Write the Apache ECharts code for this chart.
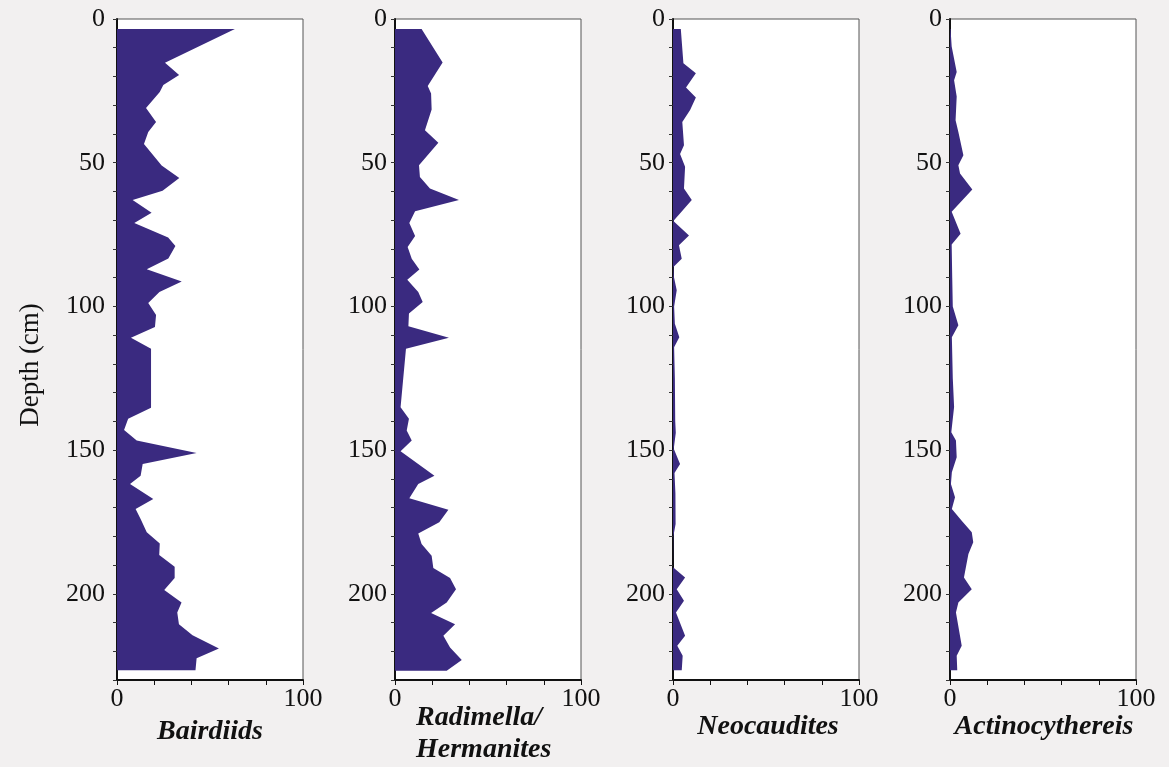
<!DOCTYPE html>
<html>
<head>
<meta charset="utf-8">
<title>Ostracod depth profiles</title>
<script src="https://cdn.jsdelivr.net/npm/echarts@6/dist/echarts.min.js"></script>
<style>
  html, body { margin: 0; padding: 0; background: #f2f0f0; }
  #main { width: 1169px; height: 767px; }
</style>
</head>
<body>
<div id="main"></div>
<script type="text/javascript">
// taxon names (x axis titles)
var taxa = ['Bairdiids', 'Radimella/\nHermanites', 'Neocaudites', 'Actinocythereis'];

// depth (cm) and relative abundance (%), one pair per panel
var bairdDepth = [3.5, 15.2, 19.5, 23, 25.4, 31, 35.8, 39.3, 43.5, 51, 55.3, 59.8, 63, 67.4, 71, 76, 79, 83.3, 87.1, 91.3, 95, 98.8, 103, 107.2, 110.9, 114.7, 135.3, 139.1, 143, 146.7, 151, 154.8, 158.9, 161.8, 167, 170.5, 174, 178.6, 182.5, 186.5, 190.6, 194.5, 198.7, 203, 206.5, 210.6, 214.4, 219, 222.4, 226.6];
var bairdVal = [63.4, 25.8, 33.4, 24.9, 23, 15.6, 21, 16.8, 14.5, 24, 33.5, 24.5, 8.4, 18.6, 9.3, 27.5, 31.4, 27.6, 16, 34.8, 22.8, 16.8, 21, 20.4, 7.5, 18.3, 18.3, 6, 3.8, 10.6, 42.8, 13.8, 12.7, 7, 19.5, 10, 12.7, 16, 23, 22.7, 31, 31, 25.4, 34.7, 32.4, 33.3, 40.6, 54.8, 42.8, 42.2];

var radDepth = [3.5, 15.1, 23.3, 25.9, 31.5, 38.7, 43.1, 50.9, 55, 59, 63, 66.9, 71, 75.5, 79.3, 83.4, 87.2, 90.7, 95, 98.5, 102.5, 106.9, 110.9, 114.7, 135.1, 139.1, 143.2, 146.7, 150.4, 158.9, 161.8, 166.8, 170.8, 175.1, 179, 182.7, 186.8, 191, 194.5, 198.4, 203, 206.7, 210.6, 214.6, 218.7, 223, 226.8];
var radVal = [14.3, 25.6, 17.6, 19.4, 19.7, 16.1, 23.3, 12.9, 13.4, 18.8, 34.4, 10.8, 7.7, 10.8, 6.8, 9, 13.1, 6.6, 12.5, 14.9, 7.5, 7.2, 29, 5.9, 3, 7.5, 6.3, 9, 3, 21.2, 12.5, 7.7, 28.7, 23.8, 12.5, 14.3, 19.7, 20.6, 29.6, 32.8, 27.8, 19.4, 32.3, 26, 29.6, 35.9, 27.8];

var neoDepth = [3.5, 15.4, 18.9, 23.8, 27.3, 31.7, 35.8, 43.9, 47, 51.4, 59, 63, 70.3, 75.3, 78.7, 83.4, 86.3, 89.8, 94.4, 100, 106, 110.7, 114.2, 125, 140, 144, 149.5, 154.8, 158, 165, 175.7, 180, 190.8, 194.3, 198.4, 202.4, 206.5, 214.6, 218.1, 221.6, 226.6];
var neoVal = [4.2, 5.6, 12.3, 7, 12.3, 9.2, 5, 5.9, 3.8, 6.5, 5.9, 10.1, 0.2, 8.6, 3.2, 4.7, 0.2, 0.5, 2, 0.6, 1, 3.4, 0.6, 1, 1.2, 1.5, 0.4, 3.8, 0.8, 1.3, 1.4, 0.2, 0, 6.5, 2, 5.9, 1.6, 6.5, 2.3, 5.2, 4.7];

var actDepth = [3.5, 9.6, 18.4, 21.3, 27, 35.2, 39.3, 47.4, 50.9, 53.8, 59.3, 67.1, 74.7, 78.5, 90, 100, 106.6, 110.7, 125, 135, 143.8, 146.7, 152.5, 157.7, 161.8, 166.4, 170.5, 174.6, 178.6, 182.1, 186.2, 194.3, 198.4, 203, 206.5, 218.1, 221.6, 226.6];
var actVal = [0.3, 0.9, 3.6, 2.2, 3.6, 3, 4.5, 7.2, 4.5, 5.4, 12, 0.9, 5.7, 0.9, 1.2, 1.5, 4.5, 1, 1.5, 2.2, 0.7, 3.2, 3.6, 1, 0.5, 2.7, 1, 6.3, 11.7, 12.5, 9.9, 7.5, 11.7, 4.5, 3.2, 6.3, 3.6, 3.9];

var depths = [bairdDepth, radDepth, neoDepth, actDepth];
var values = [bairdVal, radVal, neoVal, actVal];

var xLabels = [0, 100];      // only these x ticks get a label
var yLabelStep = 50;         // depth labels every 50 cm

var fillColor = '#3a2a80';
var serif = '"Liberation Serif", "DejaVu Serif", serif';

var lefts = [117, 395, 673, 950];
var yMargins = [12, 8, 8, 8];
// where each taxon title sits under its panel
var titlePos = [[210, 732, 'center'], [416, 734, 'left'], [768, 727, 'center'], [1044, 727, 'center']];

// area polygon from x=0 out to the profile, through the axis scales
function profileRender(dep, val) {
    return function (params, api) {
        if (params.dataIndex !== 0) return null;
        var pts = [api.coord([0, dep[0]])];
        for (var i = 0; i < val.length; i++) {
            pts.push(api.coord([val[i], dep[i]]));
        }
        pts.push(api.coord([0, dep[dep.length - 1]]));
        return {
            type: 'polygon',
            shape: { points: pts },
            style: { fill: fillColor }
        };
    };
}

var grids = [], xAxes = [], yAxes = [], series = [], texts = [];
for (var k = 0; k < 4; k++) {
    grids.push({
        left: lefts[k], top: 19, width: 186, height: 661,
        outerBoundsMode: 'none', containLabel: false,
        show: true, backgroundColor: '#ffffff',
        borderColor: '#555555', borderWidth: 1
    });
    xAxes.push({
        gridIndex: k, type: 'value', min: 0, max: 100, interval: 20,
        position: 'bottom',
        splitLine: { show: false },
        axisLine: { show: true, onZero: false, lineStyle: { color: '#111', width: 2 } },
        axisTick: { show: true, length: 5, lineStyle: { color: '#111' } },
        axisLabel: {
            color: '#111', fontFamily: serif, fontSize: 26, margin: 6,
            formatter: function (v) { return xLabels.indexOf(v) >= 0 ? String(v) : ''; }
        }
    });
    yAxes.push({
        gridIndex: k, type: 'value', inverse: true, min: 0, max: 230, interval: 10,
        position: 'left',
        splitLine: { show: false },
        axisLine: { show: true, onZero: false, lineStyle: { color: '#111', width: 2 } },
        axisTick: { show: true, length: 4, lineStyle: { color: '#333' } },
        axisLabel: {
            color: '#111', fontFamily: serif, fontSize: 26, margin: yMargins[k],
            formatter: function (v) { return v % yLabelStep === 0 ? String(v) : ''; }
        }
    });
    series.push({
        type: 'custom',
        xAxisIndex: k, yAxisIndex: k,
        renderItem: profileRender(depths[k], values[k]),
        data: depths[k].map(function (d, i) { return [values[k][i], d]; }),
        encode: { x: 0, y: 1 },
        silent: true
    });
    texts.push({
        type: 'text', x: titlePos[k][0], y: titlePos[k][1],
        style: {
            text: taxa[k], fill: '#111',
            font: 'italic bold 28px ' + serif, lineHeight: 32,
            align: titlePos[k][2], verticalAlign: 'middle'
        }
    });
}

texts.push({
    type: 'text', x: 31, y: 365, rotation: Math.PI / 2,
    style: {
        text: 'Depth (cm)', fill: '#111', font: '27px ' + serif,
        align: 'center', verticalAlign: 'middle'
    }
});

var myChart = echarts.init(document.getElementById('main'));
myChart.setOption({
    backgroundColor: '#f2f0f0',
    animation: false,
    grid: grids,
    xAxis: xAxes,
    yAxis: yAxes,
    series: series,
    graphic: texts
});
</script>
</body>
</html>
